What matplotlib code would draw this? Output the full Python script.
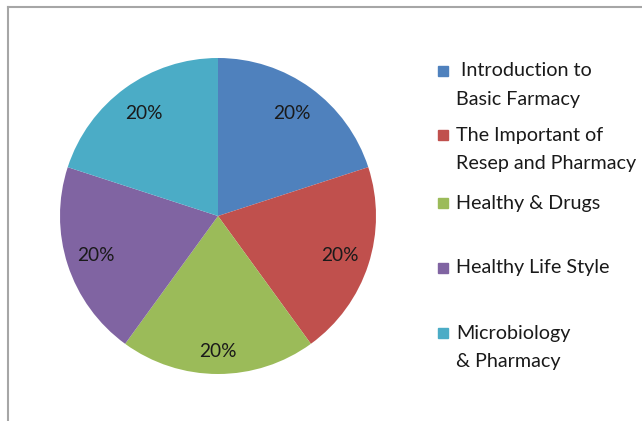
import matplotlib.pyplot as plt
from matplotlib.patches import Rectangle
from matplotlib.lines import Line2D
import numpy as np

plt.rcParams['font.family'] = ['Lato', 'DejaVu Sans']

labels = [' Introduction to\nBasic Farmacy', 'The Important of\nResep and Pharmacy',
          'Healthy & Drugs', 'Healthy Life Style', 'Microbiology\n& Pharmacy']
values = [20, 20, 20, 20, 20]
colors = ['#4F81BD', '#C0504D', '#9BBB59', '#8064A2', '#4BACC6']

W, H = 642, 421
fig = plt.figure(figsize=(W / 100, H / 100), dpi=100)

# chart frame (left and top edges visible)
fig.add_artist(Line2D([8 / W, 8 / W], [0, 1 - 7 / H], color='#a6a6a6', lw=1.5))
fig.add_artist(Line2D([8 / W, 1], [1 - 7 / H, 1 - 7 / H], color='#a6a6a6', lw=1.5))

cx, cy, r = 218, 216, 158
ax = fig.add_axes([(cx - r) / W, 1 - (cy + r) / H, 2 * r / W, 2 * r / H])
wedges, texts = ax.pie(values, colors=colors, startangle=90, counterclock=False, radius=1)
ax.set_xlim(-1, 1)
ax.set_ylim(-1, 1)
ax.set_aspect('auto')

# data labels, Excel-like placement
dist = [0.80, 0.81, 0.855, 0.81, 0.80]
for w, v, d in zip(wedges, values, dist):
    a = np.deg2rad((w.theta1 + w.theta2) / 2)
    ax.text(d * np.cos(a), d * np.sin(a), '%d%%' % v, ha='center', va='center',
            fontsize=13.8, color='#1a1a1a')

# legend placed by hand to keep the uneven spacing
leg_y = [71, 135, 203, 268, 333]
for lab, col, y in zip(labels, colors, leg_y):
    fig.add_artist(Rectangle((438 / W, 1 - (y + 5) / H), 10 / W, 10 / H,
                             color=col, transform=fig.transFigure))
    for k, line in enumerate(lab.split('\n')):
        fig.text(456 / W, 1 - (y + 28 * k) / H, line, fontsize=14.2, color='#1a1a1a',
                 va='center', ha='left')

fig.savefig('out.png', dpi=100)
